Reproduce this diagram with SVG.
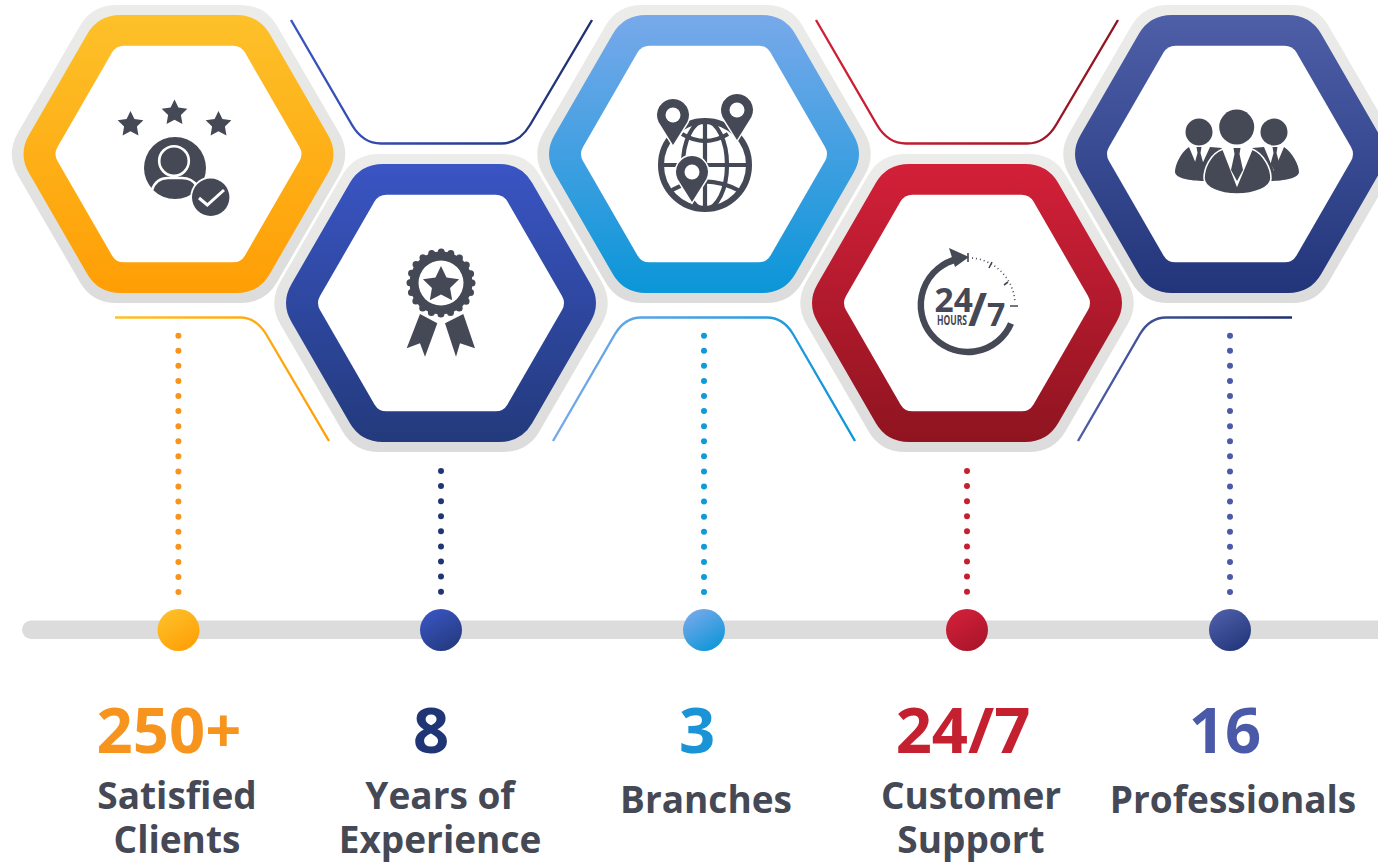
<svg xmlns="http://www.w3.org/2000/svg" xmlns:xlink="http://www.w3.org/1999/xlink" width="1378" height="862" viewBox="0 0 1378 862">
<style>
.t{font-family:"Open Sans","Noto Sans",sans-serif;font-weight:700;text-anchor:middle}
.n{font-size:63.3px}
.l{font-size:37px;fill:#454955}
.dot{fill:none;stroke-width:6;stroke-linecap:round;stroke-dasharray:0 15.08}
.ln{fill:none;stroke-width:2.4}
.ic{fill:#454855}
.w{fill:#fff}
.i{font-family:"Open Sans","Noto Sans",sans-serif;font-weight:700;fill:#454855}
</style>
<defs>
<linearGradient id="gGray" x1="0" y1="0" x2="0" y2="1"><stop offset="0" stop-color="#ececea"/><stop offset="1" stop-color="#dcdcdc"/></linearGradient>
<linearGradient id="gO" x1="0" y1="0" x2="0" y2="1"><stop offset="0" stop-color="#fdc12a"/><stop offset="1" stop-color="#ff9e05"/></linearGradient>
<linearGradient id="gB" x1="0" y1="0" x2="0" y2="1"><stop offset="0" stop-color="#3a55c4"/><stop offset="1" stop-color="#233a7c"/></linearGradient>
<linearGradient id="gL" x1="0" y1="0" x2="0" y2="1"><stop offset="0" stop-color="#78a9ea"/><stop offset="1" stop-color="#0a96d8"/></linearGradient>
<linearGradient id="gR" x1="0" y1="0" x2="0" y2="1"><stop offset="0" stop-color="#d32039"/><stop offset="1" stop-color="#8f1420"/></linearGradient>
<linearGradient id="gN" x1="0" y1="0" x2="0" y2="1"><stop offset="0" stop-color="#4e5fa8"/><stop offset="1" stop-color="#22357a"/></linearGradient>
<linearGradient id="cO" x1="0.2" y1="0" x2="0.8" y2="1"><stop offset="0" stop-color="#fdc12a"/><stop offset="1" stop-color="#ff9e05"/></linearGradient>
<linearGradient id="cB" x1="0.2" y1="0" x2="0.8" y2="1"><stop offset="0" stop-color="#3a55c4"/><stop offset="1" stop-color="#233a7c"/></linearGradient>
<linearGradient id="cL" x1="0.2" y1="0" x2="0.8" y2="1"><stop offset="0" stop-color="#78a9ea"/><stop offset="1" stop-color="#0a96d8"/></linearGradient>
<linearGradient id="cR" x1="0.2" y1="0" x2="0.8" y2="1"><stop offset="0" stop-color="#d32039"/><stop offset="1" stop-color="#a8152a"/></linearGradient>
<linearGradient id="cN" x1="0.2" y1="0" x2="0.8" y2="1"><stop offset="0" stop-color="#4e5fa8"/><stop offset="1" stop-color="#22357a"/></linearGradient>
<linearGradient id="lBlue" x1="0" y1="0" x2="1" y2="0"><stop offset="0" stop-color="#3a55c4"/><stop offset="1" stop-color="#1f3070"/></linearGradient>
<linearGradient id="lRed" x1="0" y1="0" x2="1" y2="0"><stop offset="0" stop-color="#d32039"/><stop offset="1" stop-color="#8f1420"/></linearGradient>
<linearGradient id="lOr" x1="0" y1="0" x2="1" y2="0"><stop offset="0" stop-color="#fdc12a"/><stop offset="1" stop-color="#ff9e05"/></linearGradient>
<linearGradient id="lLt" x1="0" y1="0" x2="1" y2="0"><stop offset="0" stop-color="#78a9ea"/><stop offset="1" stop-color="#0a96d8"/></linearGradient>
<linearGradient id="lNv" x1="0" y1="0" x2="1" y2="0"><stop offset="0" stop-color="#4e5fa8"/><stop offset="1" stop-color="#1f3070"/></linearGradient>
<path id="hexOut" d="M-62,-149H62Q86.5,-149 98.5,-128.2L160.5,-21.6Q173,0 160.5,21.6L98.5,128.2Q86.5,149 62,149H-62Q-86.5,149 -98.5,128.2L-160.5,21.6Q-173,0 -160.5,-21.6L-98.5,-128.2Q-86.5,-149 -62,-149Z"/>
<path id="hexMid" d="M-58,-139H58Q80.25,-139 91.25,-120L149.5,-19Q160.5,0 149.5,19L91.25,120Q80.25,139 58,139H-58Q-80.25,139 -91.25,120L-149.5,19Q-160.5,0 -149.5,-19L-91.25,-120Q-80.25,-139 -58,-139Z"/>
<path id="hexIn" d="M-54.5,-108.3H54.5Q62.5,-108.3 66.5,-101.4L121,-7Q125,0 121,7L66.5,101.4Q62.5,108.3 54.5,108.3H-54.5Q-62.5,108.3 -66.5,101.4L-121,7Q-125,0 -121,-7L-66.5,-101.4Q-62.5,-108.3 -54.5,-108.3Z"/>
<polygon id="star" points="0,-1 .29,-.4 .951,-.309 .476,.155 .588,.809 0,.5 -.588,.809 -.476,.155 -.951,-.309 -.29,-.4"/>
<path id="pin" d="M-14.4,7A16,16 0 1 1 14.4,7L0,30Z"/>
</defs>

<g id="connectors">
<path class="ln" stroke="url(#lBlue)" d="M291,20L352,125Q363,143.5 381,143.5H501Q519,143.5 530,125L592,20"/>
<path class="ln" stroke="url(#lRed)" d="M816,20L877,125Q888,143.5 906,143.5H1027Q1045,143.5 1056,125L1118,20"/>
<path class="ln" stroke="url(#lOr)" d="M115,317.5H240Q256,317.5 266,334L329,441"/>
<path class="ln" stroke="url(#lLt)" d="M553,441L615,334Q625,317.5 641,317.5H767Q783,317.5 793,334L855,441"/>
<path class="ln" stroke="url(#lNv)" d="M1078,441L1140,334Q1150,317.5 1166,317.5H1292"/>
<line class="dot" stroke="#f7941d" x1="178.4" y1="335.7" x2="178.4" y2="593"/>
<line class="dot" stroke="#1f3575" x1="441" y1="471" x2="441" y2="593"/>
<line class="dot" stroke="#0f9ad9" x1="704" y1="335.7" x2="704" y2="593"/>
<line class="dot" stroke="#c4202f" x1="967" y1="471" x2="967" y2="593"/>
<line class="dot" stroke="#4b5aa8" x1="1230" y1="335.7" x2="1230" y2="593"/>
</g>

<g id="timeline">
<rect x="22" y="620.5" width="1380" height="18.5" rx="9.25" fill="#dcdcdc"/>
<circle cx="178.5" cy="630" r="21" fill="url(#cO)"/>
<circle cx="441" cy="630" r="21" fill="url(#cB)"/>
<circle cx="704" cy="630" r="21" fill="url(#cL)"/>
<circle cx="967" cy="630" r="21" fill="url(#cR)"/>
<circle cx="1230" cy="630" r="21" fill="url(#cN)"/>
</g>

<g id="node-clients">
<use href="#hexOut" x="178.5" y="154" fill="url(#gGray)"/>
<use href="#hexMid" x="178.5" y="154" fill="url(#gO)"/>
<use href="#hexIn" x="178.5" y="154" fill="#fff"/>
<g class="ic">
<use href="#star" transform="translate(130.5,124.5) scale(13.5)"/>
<use href="#star" transform="translate(174.5,113) scale(13.5)"/>
<use href="#star" transform="translate(218.5,124.5) scale(13.5)"/>
<circle cx="175" cy="168" r="31"/>
</g>
<circle cx="174" cy="161" r="14.8" fill="#454855" stroke="#fff" stroke-width="2.6"/>
<path d="M152,190Q156,178 168,178H182Q192,178 197,186" fill="none" stroke="#fff" stroke-width="2.6"/>
<circle cx="210.7" cy="197.3" r="20.5" fill="#fff"/>
<circle cx="210.7" cy="197.3" r="18.7" fill="#454855"/>
<path d="M199,198L207.3,205L224,190" fill="none" stroke="#fff" stroke-width="3"/>
</g>

<g id="node-experience">
<use href="#hexOut" x="441" y="303" fill="url(#gGray)"/>
<use href="#hexMid" x="441" y="303" fill="url(#gB)"/>
<use href="#hexIn" x="441" y="303" fill="#fff"/>
<polygon class="ic" points="420,314 437.3,323.3 425,356.7 420,343.3 406.7,348.3"/>
<polygon class="ic" points="445,323.3 463.3,314 475,348.3 460,343.3 456,356.7"/>
<circle cx="441" cy="283" r="35" fill="#fff"/>
<circle cx="441" cy="283" r="31.5" fill="#454855"/>
<circle cx="441" cy="283" r="31" fill="none" stroke="#454855" stroke-width="7" stroke-linecap="round" stroke-dasharray="0 9.74"/>
<circle cx="441" cy="283" r="22.5" fill="#fff"/>
<use class="ic" href="#star" transform="translate(441,285) scale(19)"/>
</g>

<g id="node-branches">
<use href="#hexOut" x="704" y="154" fill="url(#gGray)"/>
<use href="#hexMid" x="704" y="154" fill="url(#gL)"/>
<use href="#hexIn" x="704" y="154" fill="#fff"/>
<g fill="none" stroke="#454855" stroke-width="4.2">
<circle cx="705" cy="165" r="44" stroke-width="6"/>
<ellipse cx="705" cy="165" rx="22" ry="44"/>
<path d="M705,121V209M661,165H749M682,134Q705,148 728,134M672,190Q705,172 742,192"/>
</g>
<g class="ic" stroke="#fff" stroke-width="3" style="paint-order:stroke">
<use href="#pin" x="673" y="115"/>
<use href="#pin" x="737" y="110"/>
<use href="#pin" x="692" y="172"/>
</g>
<g class="w">
<circle cx="673" cy="115" r="7.5"/>
<circle cx="737" cy="110" r="7.5"/>
<circle cx="692" cy="172" r="7.5"/>
</g>
</g>

<g id="node-support">
<use href="#hexOut" x="967" y="303" fill="url(#gGray)"/>
<use href="#hexMid" x="967" y="303" fill="url(#gR)"/>
<use href="#hexIn" x="967" y="303" fill="#fff"/>
<path d="M958,259A47,47 0 1 0 1011,323.5" fill="none" stroke="#454855" stroke-width="6.4"/>
<polygon class="ic" points="949,248 969,257 955,267"/>
<path d="M972,258A47,47 0 0 1 1015,303" fill="none" stroke="#454855" stroke-width="1.6" stroke-dasharray="1 3"/>
<path d="M968,253V262M992,262L989,268M1008,282L1004,285M1018,306H1010" fill="none" stroke="#454855" stroke-width="1.6"/>
<text class="i"><tspan x="934.5" y="312" font-size="33.5">24</tspan><tspan x="937" y="325" font-size="15" textLength="30" lengthAdjust="spacingAndGlyphs">HOURS</tspan><tspan x="968" y="326" font-size="46">/</tspan><tspan x="987" y="326" font-size="32">7</tspan></text>
</g>

<g id="node-professionals">
<use href="#hexOut" x="1230" y="154" fill="url(#gGray)"/>
<use href="#hexMid" x="1230" y="154" fill="url(#gN)"/>
<use href="#hexIn" x="1230" y="154" fill="#fff"/>
<g class="ic">
<circle cx="1199" cy="132" r="13.5"/>
<circle cx="1274" cy="132" r="13.5"/>
<path d="M1189,147C1181,152 1175,165 1175,172C1175,178 1190,181 1204,181L1212,175L1222,148L1210,147L1199,171Z"/>
<path d="M1284,147C1292,152 1299,165 1299,172C1299,178 1284,181 1270,181L1262,175L1252,148L1264,147L1274,171Z"/>
<circle cx="1236.7" cy="127" r="17.5"/>
<path d="M1223,149C1209,154 1204,170 1204,178C1204,188 1220,194 1237,194C1254,194 1271,188 1271,178C1271,170 1265,154 1252,149L1237,185Z" stroke="#fff" stroke-width="1.6"/>
<polygon points="1233.5,148 1240.5,148 1239.5,154 1243,170 1237,181 1231,170 1234.5,154"/>
<polygon points="1196.5,147 1201.5,147 1200.5,153 1203.5,164 1199,172 1194.5,164 1197.5,153"/>
<polygon points="1272.5,147 1277.5,147 1276.5,153 1279.5,164 1275,172 1270.5,164 1273.5,153"/>
</g>
</g>

<g id="labels">
<text class="t n" x="169" y="753" fill="#f7941d">250+</text>
<text class="t n" x="431" y="753" fill="#1f3575">8</text>
<text class="t n" x="697" y="753" fill="#1a94d6">3</text>
<text class="t n" x="963" y="753" fill="#c4202f">24/7</text>
<text class="t n" x="1225" y="753" fill="#4b5aa8">16</text>
<text class="t l" x="177" y="809">Satisfied</text>
<text class="t l" x="177" y="853">Clients</text>
<text class="t l" x="440" y="809">Years of</text>
<text class="t l" x="440" y="853">Experience</text>
<text class="t l" x="706" y="813">Branches</text>
<text class="t l" x="971" y="809">Customer</text>
<text class="t l" x="971" y="853">Support</text>
<text class="t l" x="1233" y="813">Professionals</text>
</g>
</svg>
